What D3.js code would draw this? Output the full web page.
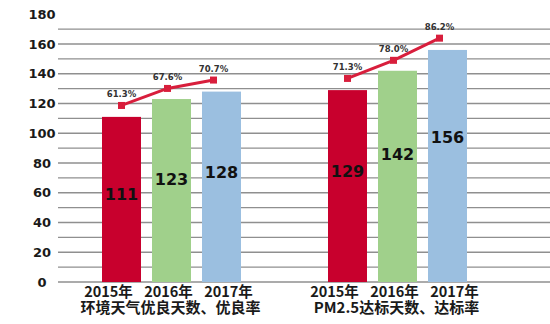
<!DOCTYPE html>
<html>
<head>
<meta charset="utf-8">
<script src="https://cdn.jsdelivr.net/npm/d3@7"></script>
<style>
  html, body { margin: 0; padding: 0; background: #fff; }
  svg { display: block; }
</style>
</head>
<body>
<svg id="chart" width="550" height="324"></svg>
<script>
// ---- data ----
const groups = ["环境天气优良天数、优良率", "PM2.5达标天数、达标率"];
const years = ["2015年", "2016年", "2017年"];
const daysAir = [111, 123, 128];
const daysPM = [129, 142, 156];
const rateAir = [61.3, 67.6, 70.7];
const ratePM = [71.3, 78.0, 86.2];
const rateLabelsAir = ["61.3%", "67.6%", "70.7%"];
const rateLabelsPM = ["71.3%", "78.0%", "86.2%"];
const yTicks = [0, 20, 40, 60, 80, 100, 120, 140, 160, 180];
const gridValues = d3.range(0, 171, 10);

const barColors = ["#c8002d", "#a0d08b", "#9bbfe0"];
const lineColor = "#d81e3c";
const textColor = "#1a1a1a";

const svg = d3.select("#chart");

// ---- scales ----
const y = d3.scaleLinear().domain([0, 180]).range([282, 14.25]);
const pct = d3.scaleLinear().domain([0, 100]).range([y(7.3), y(189)]);
const xGroup = d3.scalePoint().domain(groups).range([171.5, 397.5]);
const xYear = d3.scaleBand().domain(years).range([-69.5, 69.5]).paddingInner(0.22).paddingOuter(0);

const seriesDays = [daysAir, daysPM];
const seriesRate = [rateAir, ratePM];
const seriesRateLabels = [rateLabelsAir, rateLabelsPM];

// ---- grid ----
svg.append("g")
  .selectAll("line")
  .data(gridValues)
  .join("line")
  .attr("x1", 58).attr("x2", 550)
  .attr("y1", d => y(d)).attr("y2", d => y(d))
  .attr("stroke", "#8f8f8f")
  .attr("stroke-width", 1.3);

// ---- y axis labels ----
svg.append("g")
  .selectAll("text")
  .data(yTicks)
  .join("text")
  .attr("x", 42)
  .attr("y", d => y(d))
  .attr("text-anchor", "middle")
  .attr("dominant-baseline", "central")
  .attr("font-family", "DejaVu Sans, sans-serif")
  .attr("font-weight", "bold")
  .attr("font-size", 13)
  .attr("fill", textColor)
  .text(d => d);

// ---- groups ----
groups.forEach((g, gi) => {
  const cx = xGroup(g);
  const gEl = svg.append("g");
  const days = seriesDays[gi];

  // bars
  gEl.selectAll("rect")
    .data(years)
    .join("rect")
    .attr("x", d => cx + xYear(d))
    .attr("width", xYear.bandwidth())
    .attr("y", (d, i) => y(days[i]))
    .attr("height", (d, i) => y(0) - y(days[i]))
    .attr("fill", (d, i) => barColors[i]);

  // value labels in bars
  gEl.selectAll("text.val")
    .data(years)
    .join("text")
    .attr("class", "val")
    .attr("x", d => cx + xYear(d) + xYear.bandwidth() / 2)
    .attr("y", (d, i) => y(0.856 * days[i] - 36.1))
    .attr("text-anchor", "middle")
    .attr("dominant-baseline", "central")
    .attr("font-family", "DejaVu Sans, sans-serif")
    .attr("font-weight", "bold")
    .attr("font-size", 16)
    .attr("fill", "#111")
    .text((d, i) => days[i]);

  // rate line
  const x0 = cx + xYear(years[0]) + xYear.bandwidth() / 2;
  const pts = seriesRate[gi].map((r, i) => [x0 + i * 46, pct(r)]);
  gEl.append("path")
    .attr("d", d3.line()(pts))
    .attr("fill", "none")
    .attr("stroke", lineColor)
    .attr("stroke-width", 3);
  gEl.selectAll("rect.mk")
    .data(pts)
    .join("rect")
    .attr("class", "mk")
    .attr("x", d => d[0] - 3.5)
    .attr("y", d => d[1] - 3.5)
    .attr("width", 7).attr("height", 7)
    .attr("fill", lineColor);
  gEl.selectAll("text.rate")
    .data(pts)
    .join("text")
    .attr("class", "rate")
    .attr("x", d => d[0])
    .attr("y", d => d[1] - 8)
    .attr("text-anchor", "middle")
    .attr("font-family", "DejaVu Sans, sans-serif")
    .attr("font-weight", "bold")
    .attr("font-size", 8.5)
    .attr("fill", "#333")
    .text((d, i) => seriesRateLabels[gi][i]);

  // year labels
  gEl.selectAll("text.yr")
    .data(years)
    .join("text")
    .attr("class", "yr")
    .attr("x", (d, i) => cx - 3 + (i - 1) * 60)
    .attr("y", 297)
    .attr("text-anchor", "middle")
    .attr("font-family", "Noto Sans CJK SC, sans-serif")
    .attr("font-weight", "bold")
    .attr("font-size", 14.5)
    .attr("fill", textColor)
    .text(d => d);

  // group title
  gEl.append("text")
    .attr("x", cx - 1)
    .attr("y", 313)
    .attr("text-anchor", "middle")
    .attr("font-family", "Noto Sans CJK SC, sans-serif")
    .attr("font-weight", "bold")
    .attr("font-size", 15)
    .attr("fill", textColor)
    .text(g);
});
</script>
</body>
</html>
